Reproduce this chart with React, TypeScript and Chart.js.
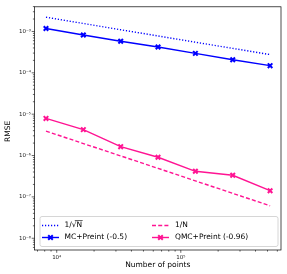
import React, { useEffect, useRef } from "react";
import { Chart, registerables } from "chart.js";

Chart.register(...registerables);

// ---- data ----
const nPoints = [8192, 16384, 32768, 65536, 131072, 262144, 524288];
const refSqrt = [2.21e-3, 1.56e-3, 1.1e-3, 7.8e-4, 5.5e-4, 3.9e-4, 2.76e-4];
const mcPreint = [1.18e-3, 8.2e-4, 5.8e-4, 4.2e-4, 2.95e-4, 2.07e-4, 1.49e-4];
const refInv = [3.9e-6, 1.95e-6, 9.8e-7, 4.9e-7, 2.44e-7, 1.22e-7, 6.1e-8];
const qmcPreint = [7.9e-6, 4.23e-6, 1.64e-6, 9.1e-7, 4.16e-7, 3.34e-7, 1.41e-7];

const xTickValues = [1e4, 1e5];
const yTickValues = [1e-8, 1e-7, 1e-6, 1e-5, 1e-4, 1e-3];

const xLabel = "Number of points";
const yLabel = "RMSE";
const legendLabels = ["1/√N", "MC+Preint (-0.5)", "1/N", "QMC+Preint (-0.96)"];

const X_MIN = 6620;
const X_MAX = 642000;
const Y_MIN = 5.2e-9;
const Y_MAX = 3.95e-3;

const BLUE = "#0000ff";
const PINK = "#ff1493";
const FONT = "DejaVu Sans";

const SUP: Record<string, string> = {
  "-": "⁻", "0": "⁰", "1": "¹", "2": "²", "3": "³", "4": "⁴",
  "5": "⁵", "6": "⁶", "7": "⁷", "8": "⁸", "9": "⁹",
};
const pow10Label = (v: number) => {
  const e = Math.round(Math.log10(v));
  return "10" + String(e).split("").map((c) => SUP[c] || c).join("");
};

const toXY = (ys: number[]) => nPoints.map((x, i) => ({ x, y: ys[i] }));

const decorPlugin = {
  id: "decor",
  afterDraw(chart: any) {
    const ctx = chart.ctx as CanvasRenderingContext2D;
    const { left, right, top, bottom } = chart.chartArea;
    const xs = chart.scales.x;
    const ys = chart.scales.y;
    ctx.save();

    // tick marks (major + minor)
    ctx.strokeStyle = "#000";
    ctx.lineWidth = 0.6;
    const tickX = (v: number, len: number) => {
      const p = xs.getPixelForValue(v);
      if (p < left - 0.5 || p > right + 0.5) return;
      ctx.beginPath();
      ctx.moveTo(p, bottom);
      ctx.lineTo(p, bottom + len);
      ctx.stroke();
    };
    const tickY = (v: number, len: number) => {
      const p = ys.getPixelForValue(v);
      if (p < top - 0.5 || p > bottom + 0.5) return;
      ctx.beginPath();
      ctx.moveTo(left, p);
      ctx.lineTo(left - len, p);
      ctx.stroke();
    };
    for (let e = 3; e <= 5; e++) {
      for (let k = 1; k <= 9; k++) {
        tickX(k * Math.pow(10, e), k === 1 ? 2.8 : 1.6);
      }
    }
    for (let e = -9; e <= -3; e++) {
      for (let k = 1; k <= 9; k++) {
        tickY(k * Math.pow(10, e), k === 1 ? 2.8 : 1.6);
      }
    }

    // frame
    ctx.lineWidth = 0.7;
    ctx.strokeStyle = "#000";
    ctx.strokeRect(left, top, right - left, bottom - top);

    // axis titles
    ctx.fillStyle = "#000";
    ctx.font = `7.5px "${FONT}"`;
    ctx.textAlign = "center";
    ctx.textBaseline = "middle";
    ctx.fillText(xLabel, (left + right) / 2, 265.5);
    ctx.save();
    ctx.translate(8.5, (top + bottom) / 2 + 3);
    ctx.rotate(-Math.PI / 2);
    ctx.fillText(yLabel, 0, 0);
    ctx.restore();

    // legend
    const bx = 40, by = 216.5, bw = 238, bh = 30;
    ctx.beginPath();
    if ((ctx as any).roundRect) (ctx as any).roundRect(bx, by, bw, bh, 2);
    else ctx.rect(bx, by, bw, bh);
    ctx.fillStyle = "rgba(255,255,255,0.8)";
    ctx.fill();
    ctx.strokeStyle = "#cccccc";
    ctx.lineWidth = 0.8;
    ctx.stroke();

    const rows = [225.5, 237.5];
    const cols = [{ h0: 42, h1: 59, t: 64.5 }, { h0: 152, h1: 169, t: 175 }];
    const entries = [
      { col: 0, row: 0, color: BLUE, dash: [1.2, 1.8], marker: false, label: legendLabels[0], sqrt: true },
      { col: 0, row: 1, color: BLUE, dash: [], marker: true, label: legendLabels[1], sqrt: false },
      { col: 1, row: 0, color: PINK, dash: [4, 2.2], marker: false, label: legendLabels[2], sqrt: false },
      { col: 1, row: 1, color: PINK, dash: [], marker: true, label: legendLabels[3], sqrt: false },
    ];
    ctx.font = `7.5px "${FONT}"`;
    ctx.textAlign = "left";
    ctx.textBaseline = "middle";
    for (const en of entries) {
      const c = cols[en.col];
      const y = rows[en.row];
      ctx.strokeStyle = en.color;
      ctx.lineWidth = 1.4;
      ctx.setLineDash(en.dash);
      ctx.beginPath();
      ctx.moveTo(c.h0, y);
      ctx.lineTo(c.h1, y);
      ctx.stroke();
      ctx.setLineDash([]);
      if (en.marker) {
        const mx = (c.h0 + c.h1) / 2;
        const r = 2.3;
        ctx.lineWidth = 2;
        ctx.beginPath();
        ctx.moveTo(mx - r, y - r);
        ctx.lineTo(mx + r, y + r);
        ctx.moveTo(mx - r, y + r);
        ctx.lineTo(mx + r, y - r);
        ctx.stroke();
      }
      ctx.fillStyle = "#000";
      ctx.fillText(en.label, c.t, y);
      if (en.sqrt) {
        const w1 = ctx.measureText(en.label.slice(0, 2)).width;
        const wAll = ctx.measureText(en.label).width;
        ctx.strokeStyle = "#000";
        ctx.lineWidth = 0.6;
        ctx.beginPath();
        ctx.moveTo(c.t + w1 + 3, y - 5);
        ctx.lineTo(c.t + wAll + 0.5, y - 5);
        ctx.stroke();
      }
    }
    ctx.restore();
  },
};

export default function App() {
  const ref = useRef<HTMLCanvasElement | null>(null);
  useEffect(() => {
    if (!ref.current) return;
    const chart = new Chart(ref.current, {
      type: "line",
      data: {
        datasets: [
          {
            label: legendLabels[0],
            data: toXY(refSqrt),
            borderColor: BLUE,
            borderWidth: 1.4,
            borderDash: [1.2, 1.8],
            pointRadius: 0,
            fill: false,
          },
          {
            label: legendLabels[1],
            data: toXY(mcPreint),
            borderColor: BLUE,
            backgroundColor: BLUE,
            borderWidth: 1.4,
            pointStyle: "crossRot",
            pointRadius: 3.2,
            pointBorderWidth: 2,
            fill: false,
          },
          {
            label: legendLabels[2],
            data: toXY(refInv),
            borderColor: PINK,
            borderWidth: 1.4,
            borderDash: [4, 2.2],
            pointRadius: 0,
            fill: false,
          },
          {
            label: legendLabels[3],
            data: toXY(qmcPreint),
            borderColor: PINK,
            backgroundColor: PINK,
            borderWidth: 1.4,
            pointStyle: "crossRot",
            pointRadius: 3.2,
            pointBorderWidth: 2,
            fill: false,
          },
        ],
      },
      options: {
        animation: false,
        responsive: false,
        devicePixelRatio: 1,
        layout: { padding: { top: 4, right: 4, left: 0, bottom: 0 } },
        plugins: { legend: { display: false }, tooltip: { enabled: false } },
        elements: { line: { tension: 0 } },
        scales: {
          x: {
            type: "logarithmic",
            min: X_MIN,
            max: X_MAX,
            grid: { display: false, drawTicks: false },
            border: { display: false },
            afterBuildTicks: (scale: any) => {
              scale.ticks = xTickValues.map((v) => ({ value: v }));
            },
            afterFit: (scale: any) => {
              scale.height = 24;
            },
            ticks: {
              autoSkip: false,
              maxRotation: 0,
              padding: 4,
              color: "#222",
              font: { family: FONT, size: 5.5 },
              callback: (v: any) => pow10Label(Number(v)),
            },
          },
          y: {
            type: "logarithmic",
            min: Y_MIN,
            max: Y_MAX,
            grid: { display: false, drawTicks: false },
            border: { display: false },
            afterBuildTicks: (scale: any) => {
              scale.ticks = yTickValues.map((v) => ({ value: v }));
            },
            afterFit: (scale: any) => {
              scale.width = 34.5;
            },
            ticks: {
              autoSkip: false,
              padding: 3.5,
              color: "#222",
              font: { family: FONT, size: 5.5 },
              callback: (v: any) => pow10Label(Number(v)),
            },
          },
        },
      },
      plugins: [decorPlugin],
    });
    return () => chart.destroy();
  }, []);
  return (
    <div style={{ position: "absolute", left: 0, top: 0, width: 287, height: 274, background: "#fff" }}>
      <canvas ref={ref} width={287} height={274} />
    </div>
  );
}
